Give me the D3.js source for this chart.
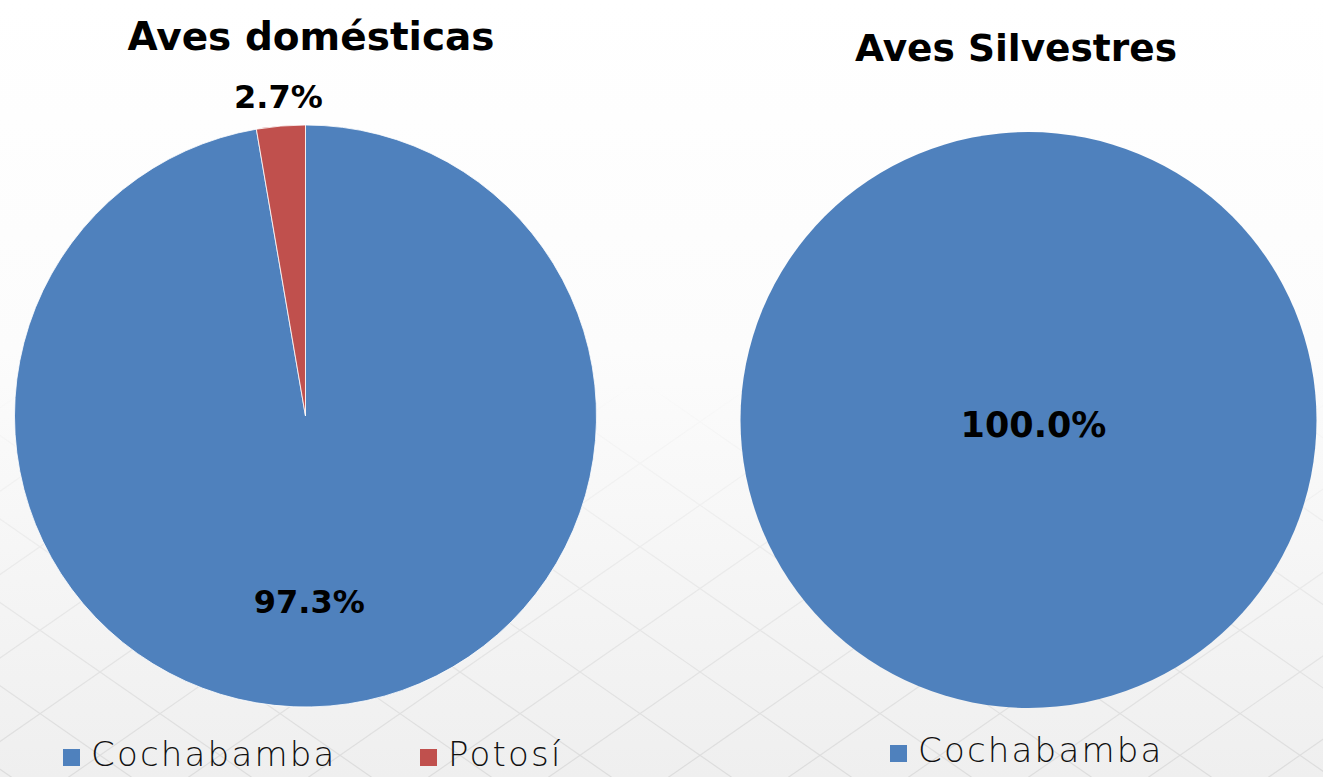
<!DOCTYPE html>
<html>
<head>
<meta charset="utf-8">
<script src="https://cdn.jsdelivr.net/npm/d3@7"></script>
<style>
  html, body { margin: 0; padding: 0; background: #fff; }
  svg { display: block; }
</style>
</head>
<body>
<svg id="chart"></svg>
<script>
const width = 1323;
const height = 777;

// data
const titles = ["Aves domésticas", "Aves Silvestres"];
const domesticCats = ["Cochabamba", "Potosí"];
const domesticVals = [97.3, 2.7];
const wildCats = ["Cochabamba"];
const wildVals = [100.0];

const colors = { "Cochabamba": "#4F81BD", "Potosí": "#C0504D" };

const svg = d3.select("#chart")
  .attr("width", width)
  .attr("height", height);

// soft grey backdrop with a faint diagonal grid near the bottom
const defs = svg.append("defs");
const grad = defs.append("linearGradient")
  .attr("id", "bg").attr("x1", 0).attr("y1", 0).attr("x2", 0).attr("y2", 1);
grad.append("stop").attr("offset", "0%").attr("stop-color", "#ffffff");
grad.append("stop").attr("offset", "45%").attr("stop-color", "#fcfcfc");
grad.append("stop").attr("offset", "100%").attr("stop-color", "#efefef");
svg.append("rect").attr("width", width).attr("height", height).attr("fill", "url(#bg)");

const fade = defs.append("linearGradient")
  .attr("id", "fade").attr("x1", 0).attr("y1", 0).attr("x2", 0).attr("y2", 1);
fade.append("stop").attr("offset", "0%").attr("stop-color", "#fff").attr("stop-opacity", 0);
fade.append("stop").attr("offset", "100%").attr("stop-color", "#fff").attr("stop-opacity", 0.8);
const mask = defs.append("mask").attr("id", "gridMask");
mask.append("rect").attr("y", 380).attr("width", width).attr("height", height - 380).attr("fill", "url(#fade)");

const grid = svg.append("g").attr("mask", "url(#gridMask)")
  .attr("stroke", "#d8d8d8").attr("stroke-width", 1.2).attr("fill", "none");
d3.range(-800, 1400, 120).forEach(x0 => {
  grid.append("line").attr("x1", x0).attr("y1", 380).attr("x2", x0 + 600).attr("y2", height + 20);
  grid.append("line").attr("x1", x0 + 600).attr("y1", 380).attr("x2", x0).attr("y2", height + 20);
});

const titleFont = "'DejaVu Sans', sans-serif";

function drawPie(cfg) {
  const g = svg.append("g").attr("transform", "translate(" + cfg.cx + "," + cfg.cy + ")");
  const data = cfg.cats.map((c, i) => ({ cat: c, val: cfg.vals[i] }));
  const pie = d3.pie().sort(null).value(d => d.val);
  const arc = d3.arc().innerRadius(0).outerRadius(cfg.r);
  const arcs = pie(data);

  g.selectAll("path")
    .data(arcs)
    .enter()
    .append("path")
    .attr("d", arc)
    .attr("fill", d => colors[d.data.cat])
    .attr("stroke", arcs.length > 1 ? "#ffffff" : "none")
    .attr("stroke-width", 0.8);

  // labels
  const total = d3.sum(cfg.vals);
  g.selectAll("text.lbl")
    .data(arcs)
    .enter()
    .append("text")
    .attr("class", "lbl")
    .attr("transform", (d, i) => {
      if (arcs.length === 1) return "translate(5,5)";
      const a = (d.startAngle + d.endAngle) / 2;
      const rr = cfg.r * cfg.labelPos[i];
      const dx = cfg.labelShift ? cfg.labelShift[i] : 0;
      return "translate(" + (Math.sin(a) * rr + dx) + "," + (-Math.cos(a) * rr) + ")";
    })
    .attr("text-anchor", "middle")
    .attr("dominant-baseline", "central")
    .style("font-family", titleFont)
    .style("font-weight", "bold")
    .style("font-size", cfg.labelSize + "px")
    .text(d => (d.data.val / total * 100).toFixed(1) + "%");

  svg.append("text")
    .attr("x", cfg.titleX)
    .attr("y", cfg.titleY)
    .attr("text-anchor", "middle")
    .style("font-family", titleFont)
    .style("font-weight", "bold")
    .style("font-size", cfg.titleSize + "px")
    .text(cfg.title);

  // legend
  const leg = svg.append("g");
  cfg.cats.forEach((c, i) => {
    const x = cfg.legX[i];
    leg.append("rect")
      .attr("x", x).attr("y", cfg.legY - 17)
      .attr("width", 17).attr("height", 17)
      .attr("fill", colors[c]);
    leg.append("text")
      .attr("x", x + 28).attr("y", cfg.legY)
      .style("font-family", "'DejaVu Sans', sans-serif")
      .style("font-size", "34px")
      .style("font-weight", "300")
      .style("letter-spacing", "2.2px")
      .attr("fill", "#111")
      .text(c);
  });
}

drawPie({
  cx: 305.5, cy: 416, r: 291,
  cats: domesticCats, vals: domesticVals,
  labelPos: [0.64, 1.1], labelShift: [-12, 0], labelSize: 32,
  title: titles[0], titleX: 311, titleY: 50, titleSize: 39,
  legX: [63, 420], legY: 766
});

drawPie({
  cx: 1028.5, cy: 420, r: 288,
  cats: wildCats, vals: wildVals,
  labelPos: [0], labelSize: 35,
  title: titles[1], titleX: 1016, titleY: 61, titleSize: 37.5,
  legX: [890], legY: 762
});
</script>
</body>
</html>
